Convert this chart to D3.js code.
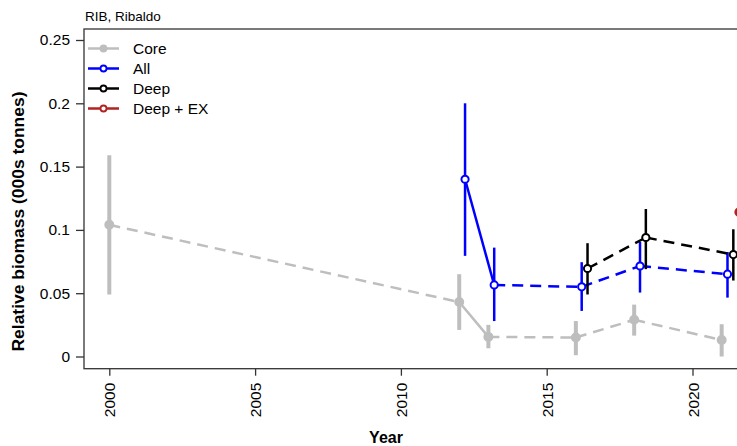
<!DOCTYPE html>
<meta charset="utf-8">
<style>
body { margin: 0; background: #fff; }
text { font-family: "Liberation Sans", Arial, Helvetica, sans-serif; fill: #000; }
.tick text { font-size: 15.5px; }
.tick line { stroke: #333; stroke-width: 1.3px; }
</style>
<svg width="737" height="446"></svg>
<script src="https://d3js.org/d3.v7.min.js"></script>
<script>

// survey index
var coreYear = [2000, 2012, 2013, 2016, 2018, 2021],
    coreVal  = [0.104, 0.043, 0.0155, 0.015, 0.029, 0.013],
    coreLo   = [0.049, 0.021, 0.0065, 0.001, 0.0165, 0.0],
    coreHi   = [0.159, 0.065, 0.025, 0.028, 0.041, 0.0255];

var allYear = [2012.2, 2013.2, 2016.2, 2018.2, 2021.2],
    allVal  = [0.14, 0.0565, 0.055, 0.0715, 0.065],
    allLo   = [0.0795, 0.028, 0.036, 0.0505, 0.0465],
    allHi   = [0.2, 0.086, 0.0745, 0.0905, 0.0825];

var deepYear = [2016.4, 2018.4, 2021.4],
    deepVal  = [0.0695, 0.094, 0.0805],
    deepLo   = [0.049, 0.069, 0.06],
    deepHi   = [0.0895, 0.1165, 0.1005];

var deepExYear = [2021.6],
    deepExVal  = [0.114];

var yTicks = [0, 0.05, 0.1, 0.15, 0.2, 0.25],
    xTicks = [2000, 2005, 2010, 2015, 2020];

var seriesNames = ["Core", "All", "Deep", "Deep + EX"],
    seriesCols  = ["#bebebe", "#0000ff", "#000000", "#b22222"];

var svg = d3.select("svg");

var x = d3.scaleLinear().domain([2000, 2020]).range([109.3, 692.5]),
    y = d3.scaleLinear().domain([0, 0.25]).range([356.5, 40]);

var box = { left: 84, top: 29, bottom: 368.7, right: 800 };

// title
svg.append("text")
    .attr("x", 85).attr("y", 21)
    .style("font-size", "13.5px")
    .text("RIB, Ribaldo");

// axes
var yAxis = svg.append("g")
    .attr("transform", "translate(" + box.left + ",0)")
    .call(d3.axisLeft(y).tickValues(yTicks).tickSize(8).tickPadding(6)
      .tickFormat(function(d) { return d === 0 ? "0" : String(+d.toFixed(2)); }));
yAxis.select(".domain").remove();

var xAxis = svg.append("g")
    .attr("transform", "translate(0," + box.bottom + ")")
    .call(d3.axisBottom(x).tickValues(xTicks).tickSize(7).tickFormat(d3.format("d")));
xAxis.select(".domain").remove();
xAxis.selectAll(".tick text")
    .attr("transform", "rotate(-90)")
    .attr("text-anchor", "end")
    .attr("x", -14).attr("y", 0).attr("dy", "0.36em");

svg.append("rect")
    .attr("x", box.left).attr("y", box.top)
    .attr("width", box.right - box.left).attr("height", box.bottom - box.top)
    .attr("fill", "none").attr("stroke", "#333").attr("stroke-width", 1.3);

svg.append("text")
    .attr("x", 386).attr("y", 443)
    .attr("text-anchor", "middle")
    .style("font-size", "16px").style("font-weight", "bold")
    .text("Year");

svg.append("text")
    .attr("transform", "translate(24,221.5) rotate(-90)")
    .attr("text-anchor", "middle")
    .style("font-size", "16px").style("font-weight", "bold")
    .attr("textLength", 260).attr("lengthAdjust", "spacingAndGlyphs")
    .text("Relative biomass (000s tonnes)");

// one series: error bars, segments (dashed over gaps), markers
function drawSeries(years, vals, lo, hi, col, opt) {
  var g = svg.append("g");
  var pts = years.map(function(yr, i) { return { yr: yr, v: vals[i], lo: lo ? lo[i] : null, hi: hi ? hi[i] : null }; });

  if (lo) {
    g.selectAll("line.err").data(pts).enter().append("line")
        .attr("class", "err")
        .attr("x1", function(d) { return x(d.yr); }).attr("x2", function(d) { return x(d.yr); })
        .attr("y1", function(d) { return y(d.lo); }).attr("y2", function(d) { return y(d.hi); })
        .attr("stroke", col).attr("stroke-width", opt.errW);
  }

  var segs = d3.pairs(pts);
  g.selectAll("line.seg").data(segs).enter().append("line")
      .attr("class", "seg")
      .attr("x1", function(d) { return x(d[0].yr); }).attr("y1", function(d) { return y(d[0].v); })
      .attr("x2", function(d) { return x(d[1].yr); }).attr("y2", function(d) { return y(d[1].v); })
      .attr("stroke", col).attr("stroke-width", 2.5)
      .attr("stroke-dasharray", function(d) { return d[1].yr - d[0].yr > 1.5 ? "11,7" : null; });

  g.selectAll("circle").data(pts).enter().append("circle")
      .attr("cx", function(d) { return x(d.yr); })
      .attr("cy", function(d) { return y(d.v); })
      .attr("r", opt.r)
      .attr("fill", opt.filled ? col : "#fff")
      .attr("stroke", col).attr("stroke-width", 2);
}

drawSeries(coreYear, coreVal, coreLo, coreHi, seriesCols[0], { errW: 4, r: 4, filled: true });
drawSeries(allYear, allVal, allLo, allHi, seriesCols[1], { errW: 2.5, r: 3.6 });
drawSeries(deepYear, deepVal, deepLo, deepHi, seriesCols[2], { errW: 2.5, r: 3.6 });
drawSeries(deepExYear, deepExVal, null, null, seriesCols[3], { errW: 2.5, r: 3.8, filled: true });

// legend
var leg = svg.append("g").selectAll("g").data(seriesNames).enter().append("g")
    .attr("transform", function(d, i) { return "translate(0," + (48.5 + 20 * i) + ")"; });
leg.append("line")
    .attr("x1", 88).attr("x2", 119)
    .attr("stroke", function(d, i) { return seriesCols[i]; })
    .attr("stroke-width", 2.5);
leg.append("circle")
    .attr("cx", 103.5).attr("r", 3)
    .attr("fill", function(d, i) { return i === 0 ? seriesCols[0] : "#fff"; })
    .attr("stroke", function(d, i) { return seriesCols[i]; })
    .attr("stroke-width", 1.8);
leg.append("text")
    .attr("x", 133).attr("dy", "0.36em")
    .style("font-size", "15.5px")
    .text(function(d) { return d; });

</script>
